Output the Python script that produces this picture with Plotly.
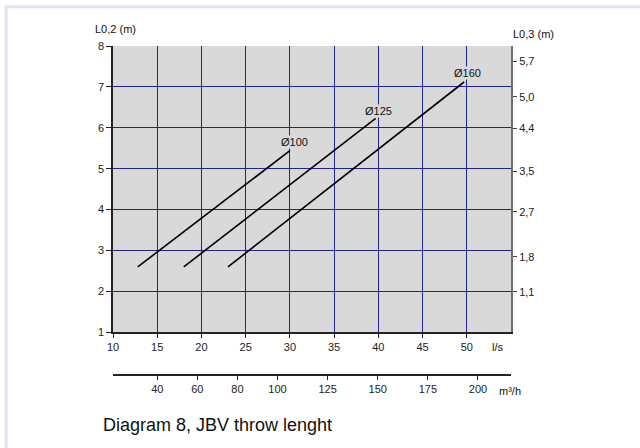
import plotly.graph_objects as go

# ---- data ----
series_names = ["Ø100", "Ø125", "Ø160"]
flow_ls = [[12.8, 30.0], [18.0, 39.7], [23.0, 49.7]]      # l/s
throw_L02 = [[2.6, 5.44], [2.6, 6.23], [2.6, 7.12]]        # m
label_pos_x = [30.5, 40.0, 50.1]
label_pos_y = [5.65, 6.41, 7.33]

x_ticks_ls = [10, 15, 20, 25, 30, 35, 40, 45, 50]
x_ticks_m3h = [40, 60, 80, 100, 125, 150, 175, 200]
y_ticks_left = [1, 2, 3, 4, 5, 6, 7, 8]
y_right_pos = [7.63, 6.76, 5.98, 4.94, 3.95, 2.85, 1.99]
y_right_text = ["5,7", "5,0", "4,4", "3,5", "2,7", "1,8", "1,1"]

FONT = "Liberation Sans, Arial, sans-serif"
GRID = "#23238f"

fig = go.Figure()
for name, xs, ys in zip(series_names, flow_ls, throw_L02):
    fig.add_trace(go.Scatter(x=xs, y=ys, mode="lines", name=name,
                             line=dict(color="black", width=1.6),
                             showlegend=False, hoverinfo="skip"))
# dummy traces for secondary axes
fig.add_trace(go.Scatter(x=[None], y=[None], xaxis="x2", yaxis="y", showlegend=False))
fig.add_trace(go.Scatter(x=[None], y=[None], xaxis="x", yaxis="y2", showlegend=False))

# plot area pixel geometry: x 113.3..511, y 45.7..375
ydom0 = (375 - 332.3) / 329.3

fig.update_layout(
    width=640, height=448,
    margin=dict(l=113, r=129, t=46, b=73),
    paper_bgcolor="white", plot_bgcolor="white",
    font=dict(family=FONT, size=11, color="#222"),
    xaxis=dict(range=[10, 55], tickvals=x_ticks_ls, anchor="y",
               showgrid=True, gridcolor=GRID, gridwidth=1,
               showline=True, linecolor="#222", linewidth=1.5,
               ticks="outside", ticklen=4, tickcolor="#222",
               zeroline=False, layer="above traces"),
    yaxis=dict(range=[1, 8], tickvals=y_ticks_left, domain=[ydom0, 1],
               showgrid=True, gridcolor=GRID, gridwidth=1,
               showline=True, linecolor="#222", linewidth=1.5,
               ticks="outside", ticklen=5, tickcolor="#222",
               zeroline=False),
    xaxis2=dict(range=[17.9, 216.5], tickvals=x_ticks_m3h, overlaying="x",
                anchor="free", position=0, side="bottom",
                showgrid=False, showline=True, linecolor="#222", linewidth=1.5,
                ticks="outside", ticklen=4, tickcolor="#222", zeroline=False),
    yaxis2=dict(range=[1, 8], tickvals=y_right_pos, ticktext=y_right_text,
                overlaying="y", side="right", anchor="x",
                showgrid=False, showline=True, linecolor="#6e6e6e", linewidth=2,
                ticks="outside", ticklen=4, tickcolor="#444", zeroline=False),
)

# grey plot background
fig.add_shape(type="rect", xref="x", yref="y", x0=10, x1=55, y0=1, y1=8,
              fillcolor="#d9d9d9", line=dict(width=0), layer="below")

# page frame (left and top)
def px_x(p):
    return (p - 113.3) / 397.7
def px_y(p):
    return (375 - p) / 329.3

fig.add_shape(type="line", xref="paper", yref="paper",
              x0=px_x(6.5), x1=px_x(6.5), y0=px_y(6.5), y1=px_y(452),
              line=dict(color="#dfe3f2", width=3))
fig.add_shape(type="line", xref="paper", yref="paper",
              x0=px_x(5), x1=px_x(645), y0=px_y(6.5), y1=px_y(6.5),
              line=dict(color="#dfe3f2", width=3))

for name, lx, ly in zip(series_names, label_pos_x, label_pos_y):
    fig.add_annotation(x=lx, y=ly, xref="x", yref="y", text=name,
                       showarrow=False, font=dict(size=11, color="#111"),
                       bgcolor="#d9d9d9", borderpad=0)

texts = [
    ("L0,2 (m)", 93.3, 28.3, 11),
    ("L0,3 (m)", 510.7, 33.3, 11),
    ("l/s", 490, 347, 11),
    ("m³/h", 497.3, 391, 11),
    ("Diagram 8, JBV throw lenght", 101.7, 425, 18),
]
for t, x, y, s in texts:
    fig.add_annotation(x=px_x(x), y=px_y(y), xref="paper", yref="paper",
                       text=t, showarrow=False, xanchor="left", yanchor="middle",
                       font=dict(size=s, color="#111"))

fig.write_html("out.html", config={"displayModeBar": False},
               post_script="document.body.style.margin='0';document.body.style.overflow='hidden';")
